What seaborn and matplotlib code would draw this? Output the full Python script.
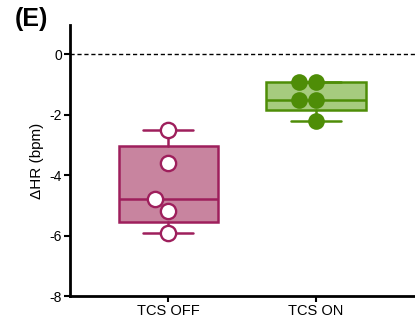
import numpy as np
import pandas as pd
import matplotlib
matplotlib.use("Agg")
import matplotlib.pyplot as plt
import seaborn as sns

categories = ["TCS OFF", "TCS ON"]
off_values = [-2.5, -3.6, -4.8, -5.2, -5.9]
on_values = [-0.93, -0.93, -1.52, -1.52, -2.21]
yticks = [0, -2, -4, -6, -8]
ylabel = "ΔHR (bpm)"
panel = "(E)"

edge_colors = {"TCS OFF": "#9E1F5C", "TCS ON": "#4E8D07"}
fill_colors = {"TCS OFF": "#C8849F", "TCS ON": "#A6CB7E"}

sns.set_theme(style="ticks")
plt.rcParams["font.family"] = ["Liberation Sans", "DejaVu Sans"]
plt.rcParams["text.color"] = "black"
plt.rcParams["axes.labelcolor"] = "black"
plt.rcParams["xtick.color"] = "black"
plt.rcParams["ytick.color"] = "black"

df = pd.DataFrame({
    "group": ["TCS OFF"] * len(off_values) + ["TCS ON"] * len(on_values),
    "value": off_values + on_values,
})

fig = plt.figure(figsize=(4.15, 3.25), dpi=100)
ax = fig.add_axes([0.169, 0.089, 0.831, 0.834])

# box stats (Prism-style quartiles)
stats = []
for g in categories:
    v = np.array(df.loc[df.group == g, "value"])
    q1, med, q3 = np.percentile(v, [25, 50, 75], method="weibull")
    stats.append(dict(med=med, q1=q1, q3=q3, whislo=v.min(), whishi=v.max(), fliers=[]))

for i, (g, s) in enumerate(zip(categories, stats)):
    ax.bxp([s], positions=[i], widths=0.67, patch_artist=True, showfliers=False,
           manage_ticks=False,
           boxprops=dict(facecolor=fill_colors[g], edgecolor=edge_colors[g], linewidth=1.8),
           medianprops=dict(color=edge_colors[g], linewidth=1.8),
           whiskerprops=dict(color=edge_colors[g], linewidth=1.8),
           capprops=dict(color=edge_colors[g], linewidth=1.8),
           capwidths=0.34, zorder=2)

ax.axhline(0, color="black", linestyle=(0, (3, 2)), linewidth=1.0, zorder=1)

sns.swarmplot(data=df[df.group == "TCS OFF"], x="group", y="value", order=categories,
              color="white", edgecolor=edge_colors["TCS OFF"], linewidth=1.7, size=11,
              ax=ax, zorder=3)
sns.swarmplot(data=df[df.group == "TCS ON"], x="group", y="value", order=categories,
              color=edge_colors["TCS ON"], linewidth=0, size=12, ax=ax, zorder=3)

ax.set_xlim(-0.662, 1.669)
ax.set_ylim(-8, 0.96)
ax.set_yticks(yticks)
ax.set_yticklabels([str(t) for t in yticks])
ax.set_xticks([0, 1])
ax.set_xticklabels(categories)
ax.set_xlabel("")
ax.set_ylabel(ylabel, fontsize=11, labelpad=4)
ax.tick_params(axis="y", labelsize=10, width=1.5, length=4, pad=2)
ax.tick_params(axis="x", labelsize=10.5, width=1.5, length=4, pad=2)
for sp in ["top", "right"]:
    ax.spines[sp].set_visible(False)
for sp in ["left", "bottom"]:
    ax.spines[sp].set_linewidth(2)
    ax.spines[sp].set_color("black")

fig.text(0.036, 0.978, panel, fontsize=18, fontweight="bold", va="top", ha="left")

fig.savefig("out.png", dpi=100)
